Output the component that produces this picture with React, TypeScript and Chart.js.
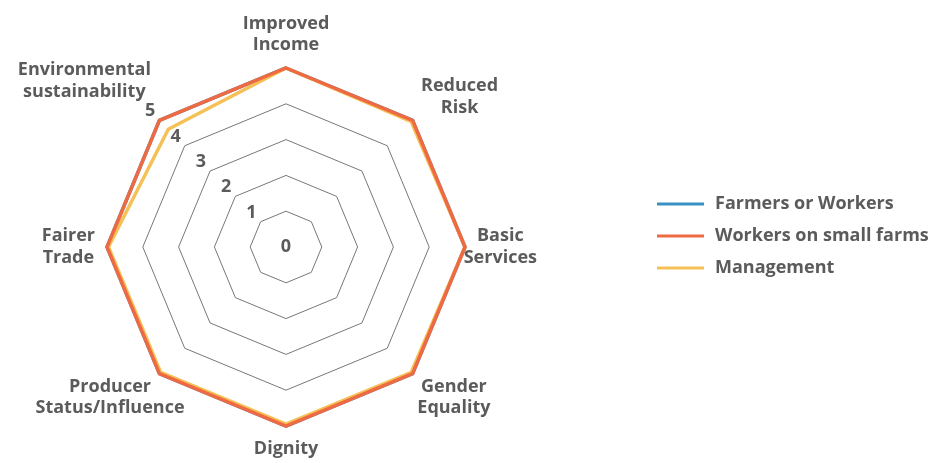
import React, { useEffect, useRef } from "react";
import { Chart, registerables } from "chart.js";

Chart.register(...registerables);

const categories: (string | string[])[] = [
  ["Improved", "Income"],
  ["Reduced", "Risk"],
  ["Basic", "Services"],
  ["Gender", "Equality"],
  "Dignity",
  ["Producer", "Status/Influence"],
  ["Fairer", "Trade"],
  ["Environmental", "sustainability"],
];

const seriesNames = ["Farmers or Workers", "Workers on small farms", "Management"];
const farmersOrWorkers = [5, 5, 5, 5, 5, 5, 5, 5];
const workersOnSmallFarms = [5, 5, 5, 5, 5, 5, 5, 5];
const management = [5, 4.95, 5, 4.95, 4.95, 4.95, 4.96, 4.65];

const tickValues = [0, 1, 2, 3, 4, 5];

const TEXT = "#5b5b5b";
const FONT = "'Open Sans', sans-serif";
const WEIGHT = "bold";
const SIZE = 18;
const LINE_H = 21.6;

function tickPositions(chart: any) {
  const scale = chart.scales.r;
  const idx = categories.length - 1;
  const angle = scale.getIndexAngle(idx) - Math.PI / 2;
  return tickValues.map((v) => {
    const d = v === 0 ? 0 : scale.getDistanceFromCenterForValue(v) + 13;
    return {
      v,
      x: scale.xCenter + Math.cos(angle) * d,
      y: scale.yCenter + Math.sin(angle) * d,
    };
  });
}

const tickLabelPlugin = {
  id: "diagTicks",
  afterDraw(chart: any) {
    const ctx = chart.ctx;
    ctx.save();
    ctx.font = `${WEIGHT} ${SIZE}px ${FONT}`;
    ctx.fillStyle = TEXT;
    ctx.textAlign = "center";
    ctx.textBaseline = "middle";
    tickPositions(chart).forEach((t) => ctx.fillText(String(t.v), t.x, t.y));
    ctx.restore();
  },
};

const pointLabelPlugin = {
  id: "centeredPointLabels",
  afterDraw(chart: any) {
    const scale = chart.scales.r;
    const ctx = chart.ctx;
    const outer = scale.getDistanceFromCenterForValue(scale.max);
    const ticks = tickPositions(chart);
    ctx.save();
    ctx.font = `${WEIGHT} ${SIZE}px ${FONT}`;
    ctx.fillStyle = TEXT;
    ctx.textAlign = "center";
    ctx.textBaseline = "middle";
    (chart.data.labels as (string | string[])[]).forEach((lab, i) => {
      const lines = Array.isArray(lab) ? lab : [lab];
      const angle = scale.getIndexAngle(i) - Math.PI / 2;
      const c = Math.cos(angle);
      const s = Math.sin(angle);
      const ax = scale.xCenter + c * (outer + 12);
      const ay = scale.yCenter + s * (outer + 12);
      const w = ctx.measureText(lines[0]).width;
      const maxW = Math.max(...lines.map((l) => ctx.measureText(l).width));
      const h = lines.length * LINE_H;
      let cx = ax;
      if (c > 0.1) cx = ax + w / 2;
      else if (c < -0.1) cx = ax - w / 2;
      let cy = ay + s * (h / 2);
      // keep clear of the tick labels
      ticks.forEach((t) => {
        const tw = ctx.measureText(String(t.v)).width / 2 + 2;
        const th = SIZE / 2;
        const overlapX = Math.abs(t.x - cx) < maxW / 2 + tw;
        const overlapY = Math.abs(t.y - cy) < h / 2 + th;
        if (overlapX && overlapY) {
          if (s <= 0) cy = t.y - th - h / 2;
          else cy = t.y + th + h / 2;
        }
      });
      lines.forEach((ln, k) => {
        const y = cy - h / 2 + LINE_H * (k + 0.5);
        ctx.fillText(ln, cx, y);
      });
    });
    ctx.restore();
  },
};

const legendPlugin = {
  id: "sideLegend",
  afterDraw(chart: any) {
    const ctx = chart.ctx;
    const x0 = 657;
    const y0 = 204;
    const gap = 32;
    ctx.save();
    ctx.font = `${WEIGHT} ${SIZE}px ${FONT}`;
    ctx.textAlign = "left";
    ctx.textBaseline = "middle";
    chart.data.datasets.forEach((ds: any, i: number) => {
      const y = y0 + i * gap;
      ctx.fillStyle = ds.borderColor;
      ctx.fillRect(x0, y - 1.5, 47, 3);
      ctx.fillStyle = TEXT;
      ctx.fillText(ds.label, x0 + 58, y);
    });
    ctx.restore();
  },
};

export default function App() {
  const ref = useRef<HTMLCanvasElement | null>(null);
  useEffect(() => {
    if (!ref.current) return;
    const chart = new Chart(ref.current, {
      type: "radar",
      data: {
        labels: categories,
        datasets: [
          {
            label: seriesNames[0],
            data: farmersOrWorkers,
            borderColor: "#3a8fc4",
            backgroundColor: "#3a8fc4",
            borderWidth: 3.5,
            pointRadius: 0,
            fill: false,
            order: 3,
          },
          {
            label: seriesNames[1],
            data: workersOnSmallFarms,
            borderColor: "#ee6a42",
            backgroundColor: "#ee6a42",
            borderWidth: 3.5,
            pointRadius: 0,
            fill: false,
            order: 1,
          },
          {
            label: seriesNames[2],
            data: management,
            borderColor: "#f5c156",
            backgroundColor: "#f5c156",
            borderWidth: 3.5,
            pointRadius: 0,
            fill: false,
            order: 2,
          },
        ],
      },
      options: {
        animation: false,
        responsive: true,
        maintainAspectRatio: false,
        layout: { padding: { left: 0, right: 361, top: 68, bottom: 37 } },
        elements: { line: { tension: 0 } },
        plugins: {
          tooltip: { enabled: false },
          legend: { display: false },
        },
        scales: {
          r: {
            min: 0,
            max: 5,
            ticks: { stepSize: 1, display: false },
            grid: { color: "#777777", lineWidth: 1, circular: false },
            angleLines: { display: false },
            pointLabels: { display: false },
          },
        },
      },
      plugins: [tickLabelPlugin, pointLabelPlugin, legendPlugin],
    });
    return () => chart.destroy();
  }, []);
  return (
    <div style={{ position: "fixed", left: 0, top: 0, width: 933, height: 463, background: "#fff" }}>
      <canvas ref={ref} />
    </div>
  );
}
